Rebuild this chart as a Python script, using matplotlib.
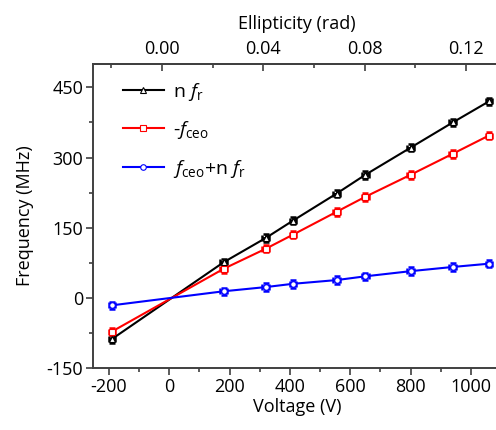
import matplotlib
matplotlib.use("Agg")
import matplotlib.pyplot as plt
from matplotlib.ticker import MultipleLocator

plt.rcParams['font.family'] = ['Open Sans', 'DejaVu Sans']
plt.rcParams['mathtext.fontset'] = 'custom'
plt.rcParams['mathtext.rm'] = 'Open Sans'
plt.rcParams['mathtext.it'] = 'Open Sans:italic'
plt.rcParams['axes.unicode_minus'] = False

voltage = [-190, 180, 320, 410, 555, 650, 800, 940, 1060]
n_fr = [-88, 76, 128, 165, 223, 263, 321, 375, 420]
neg_fceo = [-72, 62, 105, 135, 184, 216, 263, 308, 347]
fceo_nfr = [-16, 14, 23, 30, 38, 46, 57, 66, 73]

labels = ["n $f_\\mathrm{r}$", "-$f_\\mathrm{ceo}$", "$f_\\mathrm{ceo}$+n $f_\\mathrm{r}$"]
colors = ["black", "red", "blue"]
markers = ["^", "s", "o"]

fig = plt.figure(figsize=(4.96, 4.30), dpi=100)
ax = fig.add_axes([0.1875, 0.1442, 0.8225, 0.707])

for ys, lab, c, m in zip([n_fr, neg_fceo, fceo_nfr], labels, colors, markers):
    ax.errorbar(voltage, ys, xerr=11, yerr=8, fmt='none', ecolor=c,
                elinewidth=2.0, capsize=2.5, capthick=1.8, zorder=2)
    ax.plot(voltage, ys, color=c, lw=1.5, marker=m, ms=4, mfc='white',
            mec=c, mew=0.8, label=lab, zorder=3)

ax.set_xlim(-253, 1100)
ax.set_ylim(-150, 500)
ax.xaxis.set_major_locator(MultipleLocator(200))
ax.xaxis.set_minor_locator(MultipleLocator(100))
ax.yaxis.set_minor_locator(MultipleLocator(75))
ax.set_yticks([-150, 0, 150, 300, 450])

for s in ax.spines.values():
    s.set_color('#404040')
    s.set_linewidth(1.4)

ax.tick_params(axis='both', which='major', direction='out', length=5, width=1.2,
               color='#404040', labelsize=13, pad=2)
ax.tick_params(axis='both', which='minor', direction='out', length=3, width=1.2,
               color='#404040')
ax.tick_params(right=False, top=False, which='both')

ax.set_xlabel("Voltage (V)", fontsize=13, labelpad=2)
ax.set_ylabel("Frequency (MHz)", fontsize=13, labelpad=9)

def v2e(v):
    return (v + 24) / 8400.0

def e2v(e):
    return e * 8400.0 - 24

sec = ax.secondary_xaxis('top', functions=(v2e, e2v))
sec.set_xticks([0.00, 0.04, 0.08, 0.12])
sec.set_xticklabels(["0.00", "0.04", "0.08", "0.12"])
sec.xaxis.set_minor_locator(MultipleLocator(0.02))
sec.tick_params(which='major', direction='in', length=5, width=1.2, color='#404040',
                labelsize=13, pad=4)
sec.tick_params(which='minor', direction='in', length=3, width=1.2, color='#404040')
sec.spines['top'].set_color('#404040')
sec.spines['top'].set_linewidth(1.4)
sec.set_xlabel("Ellipticity (rad)", fontsize=13, labelpad=8)

leg = ax.legend(loc='upper left', frameon=False, fontsize=14, handlelength=2.1,
                handletextpad=0.45, labelspacing=0.85, borderaxespad=0.3,
                bbox_to_anchor=(0.04, 0.99))

fig.savefig("out.png", dpi=100)
